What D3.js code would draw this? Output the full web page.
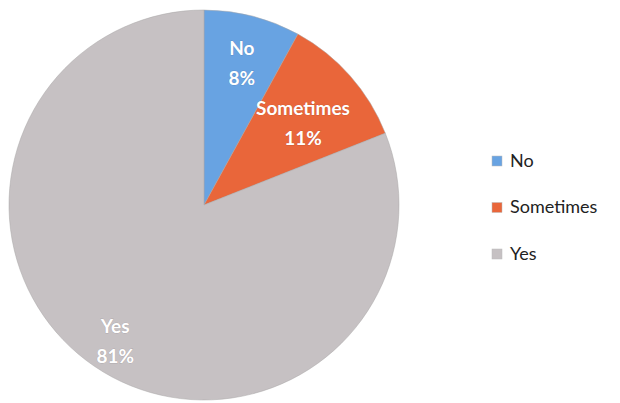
<!DOCTYPE html>
<html><head><meta charset="utf-8">
<script src="https://cdn.jsdelivr.net/npm/d3@7"></script>
<style>html,body{margin:0;padding:0;background:#fff;}svg{display:block;}</style>
</head><body><svg id="c" width="620" height="403"></svg>
<script>
const categories = ["No", "Sometimes", "Yes"];
const values = [8, 11, 81];
const colors = ["#68a3e2", "#e9663a", "#c6c1c3"];
const labels = ["8%", "11%", "81%"];

const svg = d3.select("#c");
const cx = 204, cy = 205, R = 195;
const labelR = {No: 152, Sometimes: 132, Yes: 158};
const pie = d3.pie().sort(null).value(d => d.v);
const data = pie(categories.map((c, i) => ({c, v: values[i], col: colors[i], lab: labels[i]})));
const arc = d3.arc().innerRadius(0).outerRadius(R);

const g = svg.append("g").attr("transform", `translate(${cx},${cy})`);
const slices = g.selectAll("g.s").data(data).enter().append("g");
slices.append("path").attr("d", arc).attr("fill", d => d.data.col)
  .attr("stroke", "#a9a6a7").attr("stroke-width", 0.5);

const lab = slices.append("text")
  .attr("transform", d => {
    const r = labelR[d.data.c];
    const p = d3.arc().innerRadius(r).outerRadius(r).centroid(d);
    return `translate(${p[0]},${p[1]})`;
  })
  .attr("text-anchor", "middle")
  .attr("font-family", "Lato, 'Open Sans', sans-serif")
  .attr("font-weight", "bold").attr("font-size", 19).attr("fill", "#fff")
  .style("paint-order", "stroke").attr("stroke", "rgba(0,0,0,0.12)").attr("stroke-width", 1);
lab.append("tspan").attr("x", 0).attr("dy", "-0.15em").text(d => d.data.c);
lab.append("tspan").attr("x", 0).attr("dy", "1.58em").text(d => d.data.lab);

const leg = svg.append("g").attr("transform", "translate(492,156)");
const yScale = d3.scalePoint().domain(categories).range([0, 93]);
const li = leg.selectAll("g").data(categories).enter().append("g")
  .attr("transform", d => `translate(0,${yScale(d)})`);
li.append("rect").attr("width", 10).attr("height", 10).attr("fill", (d, i) => colors[i])
  .attr("stroke", "#bbb").attr("stroke-width", 0.5);
li.append("text").attr("x", 18).attr("y", 10.5).attr("font-family", "Lato, 'Open Sans', sans-serif")
  .attr("font-size", 18).attr("fill", "#222").text(d => d);
</script></body></html>
